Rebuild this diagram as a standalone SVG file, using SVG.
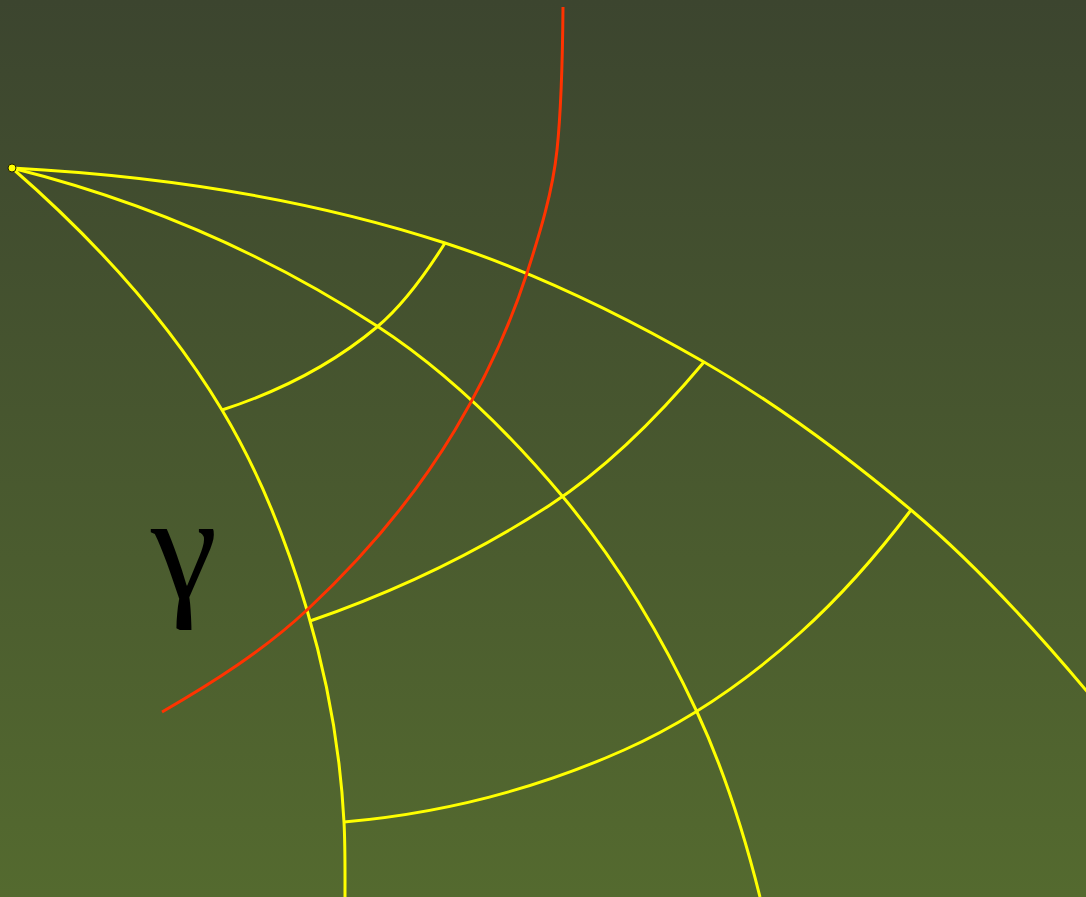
<svg xmlns="http://www.w3.org/2000/svg" width="1086" height="897" viewBox="0 0 1086 897">
<defs>
<linearGradient id="bg" x1="0" y1="0" x2="0" y2="1">
<stop offset="0" stop-color="#3c452f"/>
<stop offset="1" stop-color="#546a2f"/>
</linearGradient>
</defs>
<style>
.y{fill:none;stroke:#ffff00;stroke-width:3;stroke-linecap:butt;stroke-linejoin:round}
.r{fill:none;stroke:#ff3300;stroke-width:3;stroke-linecap:butt;stroke-linejoin:round}
.lbl{font-family:"Liberation Serif","Times New Roman",serif;font-size:150px;fill:#000000}
</style>
<rect x="0" y="0" width="1086" height="897" fill="url(#bg)"/>
<g id="connectors">
<path id="curveA" class="y" d="M12,168 C92.6,238.1 167,318.5 222,410 C259.3,472.1 286.4,540.6 307,610 C327.4,678.8 340.3,750.4 344,822 C345.3,847 345,872 345,897"/>
<path id="curveB" class="y" d="M12,168 C140.6,200.1 265.8,253.7 377,326 C447.6,371.9 508.9,432.5 563,497 C617.3,561.7 661.3,635.5 697,712 C724.5,771 744.2,833.8 760,897"/>
<path id="curveC" class="y" d="M12,168 C158.3,175.7 305.7,197.7 445,243 C535.3,272.4 621.7,314.5 704,362 C777.4,404.4 846,455.5 911,510 C975.1,563.8 1032.2,625.9 1090,695"/>
<path id="arc1" class="y" d="M222,410 C277.7,391.9 332.1,364.7 377,327 C404.6,303.9 425.9,273.5 445,243"/>
<path id="arc2" class="y" d="M310,621 C394.1,592 475.4,553.5 550,505 C608.8,466.8 658.9,415.7 704,362"/>
<path id="arc3" class="y" d="M344,822 C440,813.6 535.9,789.2 624,750 C688.3,721.3 747.7,680.1 800,633 C841,596.1 877.8,554.1 911,510"/>
<path id="redCurve" class="r" d="M563,7 C562.6,54.7 562,102.6 557,150 C552.6,192 540,232.9 527,273 C509.2,327.8 484.7,380.6 455,430 C415,496.6 363.8,557 307,610 C263.8,650.3 213.2,682.4 162,712"/>
</g>
<g id="origin">
<circle cx="12" cy="168" r="4" fill="#ffff00" stroke="#222200" stroke-width="1"/>
</g>
<g id="label-gamma">
<text class="lbl" x="151" y="598">γ</text>
</g>
</svg>
